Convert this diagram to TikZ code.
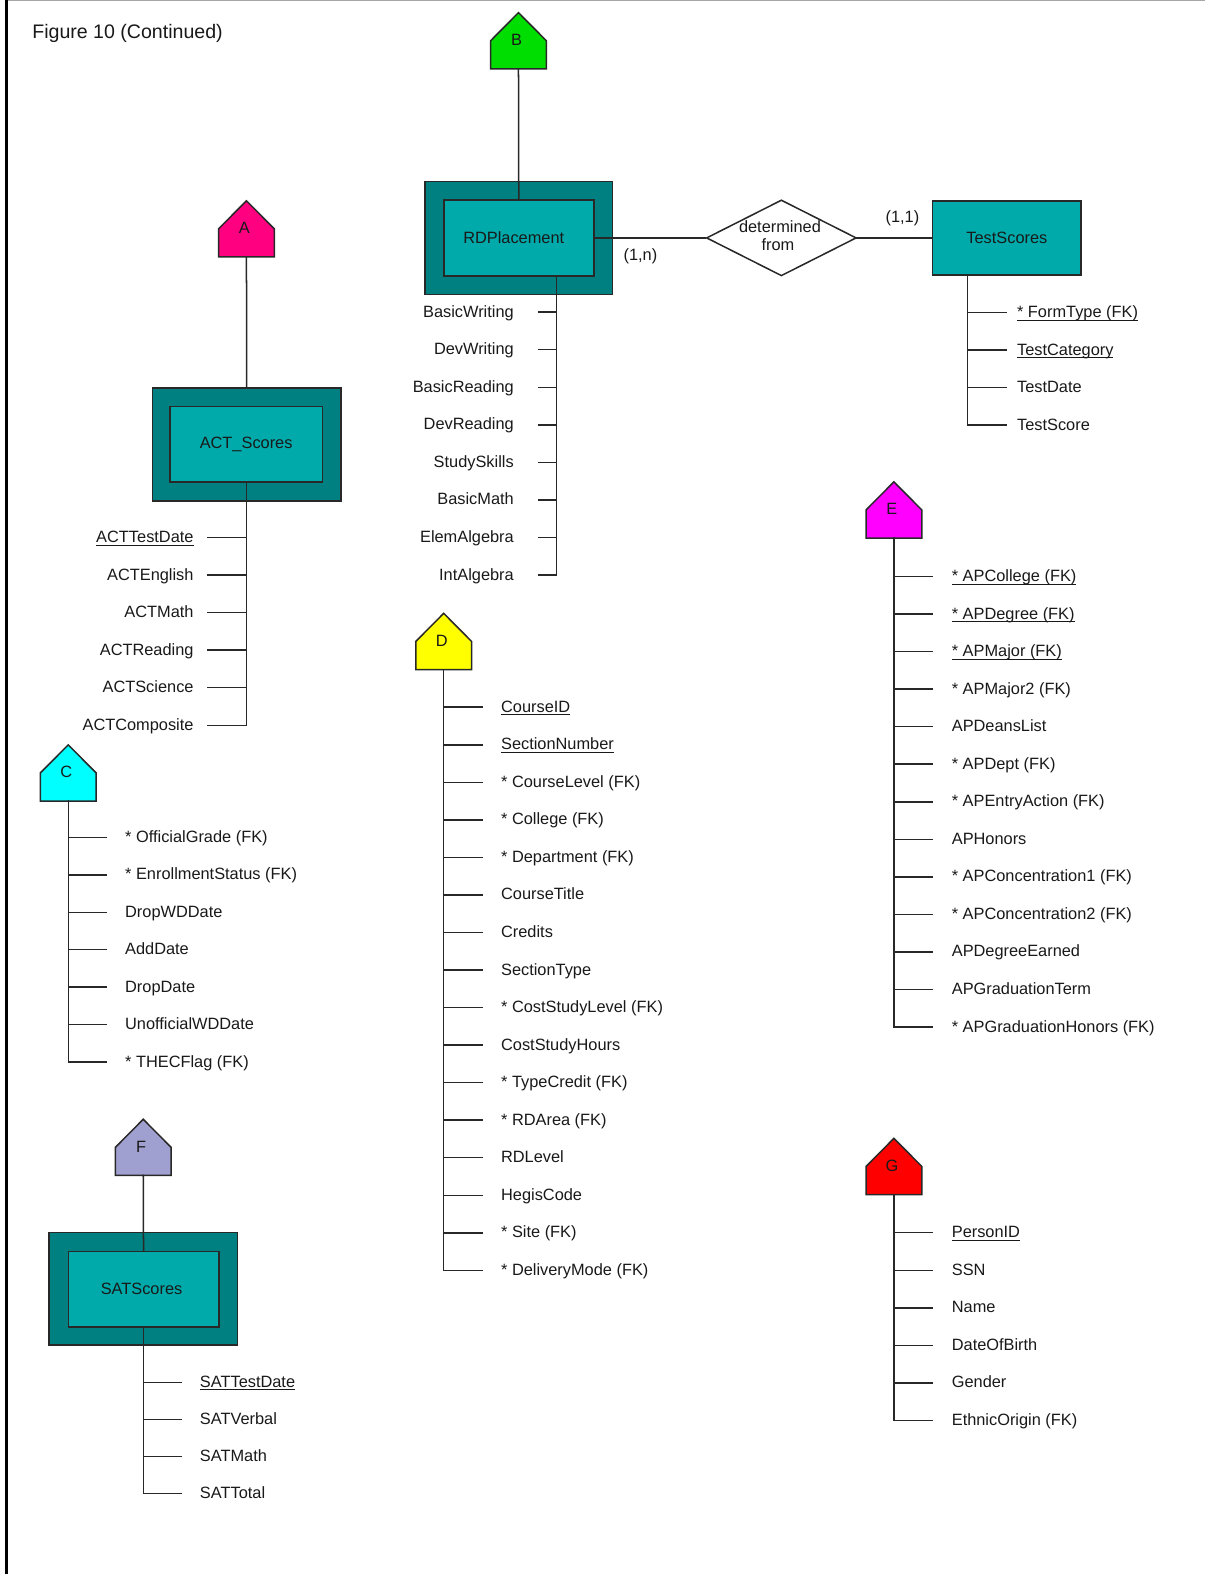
\documentclass[tikz,border=0pt]{standalone}
\usepackage{fontspec}
\setmainfont{Liberation Sans}
\usetikzlibrary{shapes.geometric}
\definecolor{tealdark}{RGB}{0,128,128}
\definecolor{teallight}{RGB}{0,170,170}
\definecolor{colA}{RGB}{255,0,128}
\definecolor{colB}{RGB}{0,221,0}
\definecolor{colC}{RGB}{0,255,255}
\definecolor{colD}{RGB}{255,255,0}
\definecolor{colE}{RGB}{255,0,255}
\definecolor{colF}{RGB}{160,160,208}
\definecolor{colG}{RGB}{255,0,0}
\definecolor{inkc}{RGB}{25,25,25}
\definecolor{linec}{RGB}{40,40,40}
\newcommand\ulbar[1]{\setbox0=\hbox{#1}\rlap{\rule[-3pt]{\wd0}{1pt}}\box0}
% house-shaped off-page connector: #1 name, #2 apex x, #3 apex y, #4 colour, #5 letter
\newcommand\housebox[5]{%
  \draw[ln, fill=#4, line join=miter] (#2,#3) -- ({#2+27.8},{#3+28}) -- ({#2+27.8},{#3+56})
     -- ({#2-27.8},{#3+56}) -- ({#2-27.8},{#3+28}) -- cycle;
  \node[anchor=base, inner sep=0pt] (#1) at ({#2-2},{#3+33}) {#5};
  \coordinate (#1-foot) at (#2,{#3+56});
}
% attribute list to the right of a vertical line: #1 prefix, #2 line x, #3 first y, #4 step, #5 text x, #6 list
\newcommand\attrlist[6]{%
  \foreach \t [count=\i from 0] in {#6}{%
    \pgfmathsetmacro\yy{#3+#4*\i}
    \draw[ln] (#2,\yy) -- ({#2+38},\yy);
    \node[attrL] (#1-\i) at (#5,\yy+5) {\t};
  }%
}
\begin{document}
\begin{tikzpicture}[x=1pt,y=-1pt,
  every node/.style={font=\fontsize{16.3}{18}\selectfont, text=inkc},
  ln/.style={draw=linec, line width=1.5pt, line cap=rect},
  outerbox/.style={draw=linec, fill=tealdark, line width=1.5pt, inner sep=0pt},
  innerbox/.style={draw=linec, fill=teallight, line width=1.5pt, inner sep=0pt},
  attrL/.style={inner sep=0pt, anchor=base west},
  attrR/.style={inner sep=0pt, anchor=base east}]
\useasboundingbox (0,0) rectangle (1200,1568);
\fill[white] (0,0) rectangle (1200,1568);
\draw[draw=black!35, line width=1.2pt] (6.6,0.6) -- (1200,0.6);
\draw[draw=black, line width=3pt] (6.6,0) -- (6.6,1568);
\node[anchor=base west, inner sep=0pt, font=\fontsize{19.5}{22}\selectfont] (title) at (32,38) {Figure 10 (Continued)};

% ---------- B / RDPlacement ----------
\housebox{pB}{516.5}{12.6}{colB}{B}
\node[outerbox, minimum width=187pt, minimum height=112.5pt] (rdo) at (516.7,237.2) {};
\node[innerbox, minimum width=149.5pt, minimum height=76pt] (rd) at (516.8,237) {\hspace*{-10pt}RDPlacement};
\draw[ln] (pB-foot) -- (rd.north);
\coordinate (rdfoot) at (554.4,275);
\coordinate (rdlast) at (554.4,572.8);
\draw[ln] (rdfoot) -- (rdlast);
\foreach \t [count=\i from 0] in {BasicWriting,DevWriting,BasicReading,DevReading,StudySkills,BasicMath,ElemAlgebra,IntAlgebra}{
  \pgfmathsetmacro\yy{311+37.4*\i}
  \draw[ln] (554.4,\yy) -- (537,\yy);
  \node[attrR] (rd-\i) at (512,\yy+5) {\t};
}

% ---------- relationship ----------
\node[diamond, draw=linec, line width=1.5pt, fill=white, minimum width=149.4pt, minimum height=75.7pt, inner sep=0pt] (rel) at (778.4,237) {};
\node[anchor=base, inner sep=0pt] (relt1) at (777,232) {determined};
\node[anchor=base, inner sep=0pt] (relt2) at (775,250) {from};
\node[innerbox, minimum width=148pt, minimum height=74pt] (ts) at (1003,237) {TestScores};
\draw[ln] (rd.east) -- (rel.west);
\draw[ln] (rel.east) -- (ts.west);
\node[anchor=base, inner sep=0pt] (card1) at (638,260) {(1,n)};
\node[anchor=base, inner sep=0pt] (card2) at (899,222) {(1,1)};
\coordinate (tsfoot) at (964,274);
\coordinate (tslast) at (964,423.6);
\draw[ln] (tsfoot) -- (tslast);
\attrlist{ts}{964}{311.4}{37.4}{1013}{\ulbar{* FormType (FK)},\ulbar{TestCategory},TestDate,TestScore}

% ---------- A / ACT_Scores ----------
\housebox{pA}{245.5}{200}{colA}{A}
\node[outerbox, minimum width=187.6pt, minimum height=112.6pt] (acto) at (245.8,442.7) {};
\node[innerbox, minimum width=151.7pt, minimum height=75.3pt] (act) at (245.2,442.7) {ACT\_Scores};
\draw[ln] (pA-foot) -- (acto.north);
\coordinate (actfoot) at (245.5,480.3);
\coordinate (actlast) at (245.5,722.5);
\draw[ln] (actfoot) -- (actlast);
\foreach \t [count=\i from 0] in {\ulbar{ACTTestDate},ACTEnglish,ACTMath,ACTReading,ACTScience,ACTComposite}{
  \pgfmathsetmacro\yy{535.5+37.4*\i}
  \draw[ln] (245.5,\yy) -- (207,\yy);
  \node[attrR] (act-\i) at (193,\yy+5) {\t};
}

% ---------- C ----------
\housebox{pC}{68}{742}{colC}{C}
\coordinate (clast) at (68,1058);
\draw[ln] (pC-foot) -- (clast);
\attrlist{c}{68}{834.2}{37.3}{124.5}{* OfficialGrade (FK),* EnrollmentStatus (FK),DropWDDate,AddDate,DropDate,UnofficialWDDate,* THECFlag (FK)}

% ---------- D ----------
\housebox{pD}{442}{611}{colD}{D}
\coordinate (dlast) at (442,1265.5);
\draw[ln] (pD-foot) -- (dlast);
\attrlist{d}{442}{704.5}{37.4}{499}{\ulbar{CourseID},\ulbar{SectionNumber},* CourseLevel (FK),* College (FK),* Department (FK),CourseTitle,Credits,SectionType,* CostStudyLevel (FK),CostStudyHours,* TypeCredit (FK),* RDArea (FK),RDLevel,HegisCode,* Site (FK),* DeliveryMode (FK)}

% ---------- E ----------
\housebox{pE}{890.5}{480}{colE}{E}
\coordinate (elast) at (890.5,1023.1);
\draw[ln] (pE-foot) -- (elast);
\attrlist{e}{890.5}{574.3}{37.4}{948}{\ulbar{* APCollege (FK)},\ulbar{* APDegree (FK)},\ulbar{* APMajor (FK)},* APMajor2 (FK),APDeansList,* APDept (FK),* APEntryAction (FK),APHonors,* APConcentration1 (FK),* APConcentration2 (FK),APDegreeEarned,APGraduationTerm,* APGraduationHonors (FK)}

% ---------- F / SATScores ----------
\housebox{pF}{142.7}{1115}{colF}{F}
\node[outerbox, minimum width=187.7pt, minimum height=112.5pt] (sato) at (142.9,1283.8) {};
\node[innerbox, minimum width=150pt, minimum height=75.3pt] (sat) at (143,1284.2) {\hspace*{-4pt}SATScores};
\draw[ln] (pF-foot) -- (sat.north);
\coordinate (satfoot) at (143,1321.8);
\coordinate (satlast) at (143,1487.7);
\draw[ln] (satfoot) -- (satlast);
\attrlist{sat}{143}{1377}{36.9}{199}{\ulbar{SATTestDate},SATVerbal,SATMath,SATTotal}

% ---------- G ----------
\housebox{pG}{890.5}{1134}{colG}{G}
\coordinate (glast) at (890.5,1415);
\draw[ln] (pG-foot) -- (glast);
\attrlist{g}{890.5}{1228}{37.4}{948}{\ulbar{PersonID},SSN,Name,DateOfBirth,Gender,EthnicOrigin (FK)}
\end{tikzpicture}
\end{document}
